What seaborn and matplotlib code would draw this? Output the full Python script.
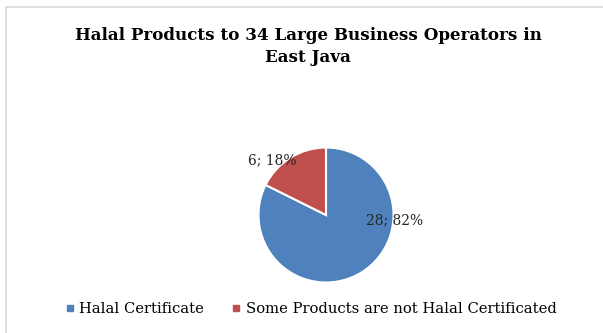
import matplotlib
matplotlib.use("Agg")
import matplotlib.pyplot as plt
from matplotlib.lines import Line2D
import seaborn as sns

# Survey of 34 large business operators in East Java
categories = ["Halal Certificate", "Some Products are not Halal Certificated"]
counts = [28, 6]
percents = [82, 18]
title_lines = ["Halal Products to 34 Large Business Operators in", "East Java"]

sns.set_theme(style="white")
plt.rcParams["font.family"] = ["DejaVu Serif"]
palette = sns.color_palette(["#4F81BD", "#C0504D"])

W, H, DPI = 603, 333, 100
fig = plt.figure(figsize=(W / DPI, H / DPI), dpi=DPI)
fig.patch.set_facecolor("white")

# chart-area frame: left and top edges (the rest runs past the canvas)
fx, fy = 5.5 / W, 1 - 6.5 / H
fig.add_artist(Line2D([fx, fx], [0, fy], transform=fig.transFigure,
                      color="#D9D9D9", linewidth=1.2))
fig.add_artist(Line2D([fx, 1], [fy, fy], transform=fig.transFigure,
                      color="#D9D9D9", linewidth=1.2))

fig.text(308 / W, 1 - 46.5 / H, "\n".join(title_lines), ha="center", va="center",
         fontsize=12.1, fontweight="bold", color="black", linespacing=1.45)

# pie
cx, cy, r = 326, 215, 67.5
ax = fig.add_axes([(cx - r) / W, (H - cy - r) / H, 2 * r / W, 2 * r / H])
wedges, _ = ax.pie(counts, colors=palette, startangle=90, counterclock=False,
                   wedgeprops=dict(edgecolor="white", linewidth=1.5))
ax.set_xlim(-1, 1)
ax.set_ylim(-1, 1)
ax.axis("off")

label_pos = [(1.01, -0.075), (-0.79, 0.81)]
for (lx, ly), n, p in zip(label_pos, counts, percents):
    ax.text(lx, ly, f"{n}; {p}%", ha="center", va="center", fontsize=10,
            color="#262626")

handles = [Line2D([], [], linestyle="none", marker="s", markersize=4.5,
                  markerfacecolor=c, markeredgecolor=c) for c in palette]
fig.legend(handles, categories, loc="center", bbox_to_anchor=(311 / W, 1 - 309 / H),
           ncol=2, frameon=False, fontsize=10.6, handlelength=0.6, handletextpad=0.35,
           columnspacing=1.9, borderpad=0, labelcolor="black")

fig.savefig("out.png", dpi=DPI, facecolor="white")
